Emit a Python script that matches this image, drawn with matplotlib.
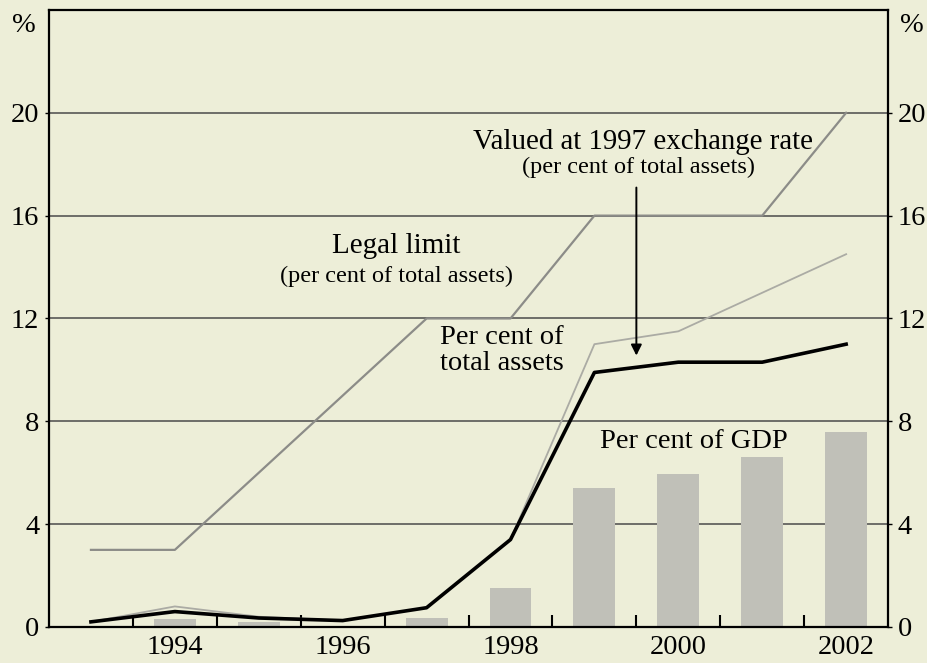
import numpy as np
import matplotlib.pyplot as plt
from matplotlib.ticker import FixedLocator

years = [1993, 1994, 1995, 1996, 1997, 1998, 1999, 2000, 2001, 2002]
legal_limit = [3, 3, 6, 9, 12, 12, 16, 16, 16, 20]
pct_total_assets = [0.2, 0.6, 0.35, 0.25, 0.75, 3.4, 9.9, 10.3, 10.3, 11.0]
pct_1997_rate = [0.2, 0.8, 0.4, 0.25, 0.75, 3.4, 11.0, 11.5, 13.0, 14.5]
pct_gdp = [0.0, 0.3, 0.2, 0.0, 0.35, 1.5, 5.4, 5.95, 6.6, 7.6]

y_ticks = [0, 4, 8, 12, 16, 20]
year_labels = [1994, 1996, 1998, 2000, 2002]

bg = "#edeed8"
plt.rcParams["font.family"] = ["Liberation Serif", "DejaVu Serif"]

fig = plt.figure(figsize=(9.28, 6.63), dpi=100, facecolor=bg)
ax = fig.add_axes([0.0528, 0.0543, 0.9042, 0.9307], facecolor=bg)

# gridlines under bars
for v in y_ticks[1:]:
    ax.axhline(v, color="#4a4a4a", lw=1.1, zorder=1)

ax.bar(years, pct_gdp, width=0.5, color="#c0c0b8", zorder=2)

ax.plot(years, legal_limit, color="#8c8c88", lw=1.6, zorder=3)
ax.plot(years, pct_1997_rate, color="#ababa4", lw=1.3, zorder=3)
ax.plot(years, pct_total_assets, color="black", lw=2.6, zorder=4)

ax.set_xlim(1992.5, 2002.5)
ax.set_ylim(0, 24)

# year boundary ticks, labels centred on years
ax.xaxis.set_major_locator(FixedLocator(np.arange(1993.5, 2002, 1.0)))
ax.xaxis.set_minor_locator(FixedLocator(year_labels))
ax.set_xticklabels([])
ax.set_xticklabels([str(y) for y in year_labels], minor=True)
ax.tick_params(axis="x", which="major", direction="in", length=9, width=1.5, color="black")
ax.tick_params(axis="x", which="minor", length=0, labelsize=20.5, pad=6)

ax.set_yticks(y_ticks)
ax.tick_params(axis="y", which="major", direction="out", length=3, width=1,
               labelsize=20.5, left=True, right=True, labelleft=True, labelright=True, pad=4)

for s in ax.spines.values():
    s.set_linewidth(1.6)
    s.set_color("black")

ax.text(1996.64, 14.8, "Legal limit", ha="center", va="center", fontsize=21)
ax.text(1996.64, 13.65, "(per cent of total assets)", ha="center", va="center", fontsize=17.5)
ax.text(1999.58, 18.87, "Valued at 1997 exchange rate", ha="center", va="center", fontsize=20.8)
ax.text(1999.52, 17.86, "(per cent of total assets)", ha="center", va="center", fontsize=17.5)
ax.text(1997.9, 10.76, "Per cent of\ntotal assets", ha="center", va="center", fontsize=20.5,
        linespacing=1.05)
ax.text(2000.18, 7.2, "Per cent of GDP", ha="center", va="center", fontsize=20.5)

ax.annotate("", xy=(1999.5, 10.45), xytext=(1999.5, 17.2),
            arrowprops=dict(arrowstyle="-|>", color="black", lw=1.4, mutation_scale=16),
            zorder=5)

fig.text(24 / 928, 1 - 26 / 663, "%", ha="center", va="center", fontsize=20.5)
fig.text(912 / 928, 1 - 26 / 663, "%", ha="center", va="center", fontsize=20.5)

fig.savefig("out.png", dpi=100, facecolor=bg)
